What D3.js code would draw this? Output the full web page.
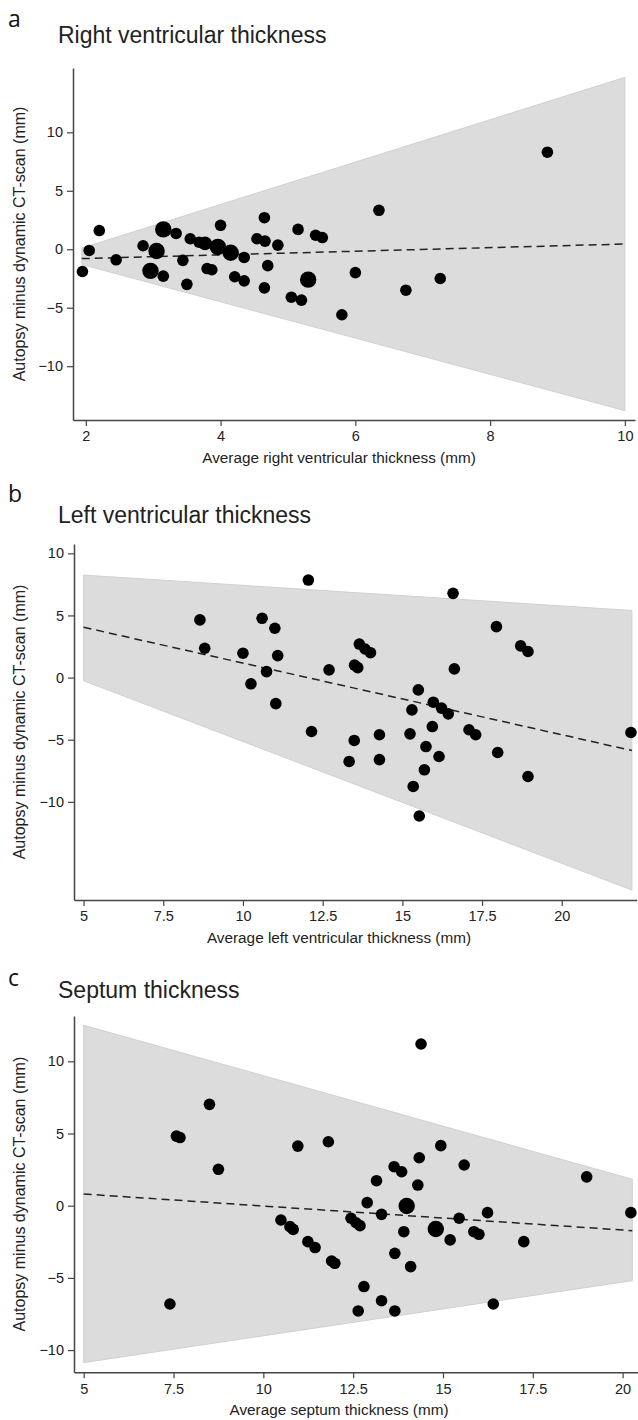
<!DOCTYPE html>
<html>
<head>
<meta charset="utf-8">
<script src="https://cdn.jsdelivr.net/npm/d3@7"></script>
<style>
  body { margin: 0; background: #fff; }
  svg { display: block; }
  .tick text { font-family: "Liberation Sans", Arial, sans-serif; font-size: 14.5px; fill: #222; }
</style>
</head>
<body>
<div id="chart"></div>
<script>
// panel a: right ventricle (x, y, weight)
var rvX = [1.95, 2.05, 2.2, 2.45, 2.85, 3.05, 2.96, 3.15, 3.15, 3.34, 3.44, 3.5, 3.55, 3.68, 3.77, 3.8, 3.87, 3.96, 4.0, 4.15,
  4.21, 4.35, 4.35, 4.54, 4.66, 4.65, 4.7, 4.65, 4.85, 5.05, 5.15, 5.2, 5.3, 5.41, 5.51, 6.35, 6.0, 5.8, 6.75, 7.26, 8.85];
var rvY = [-1.9, -0.1, 1.6, -0.9, 0.3, -0.15, -1.85, -2.3, 1.7, 1.35, -0.95, -3.0, 0.9, 0.6, 0.5, -1.65, -1.75, 0.2, 2.05, -0.3,
  -2.35, -0.7, -2.7, 0.9, 0.7, 2.7, -1.4, -3.3, 0.35, -4.1, 1.7, -4.35, -2.6, 1.2, 1.0, 3.33, -2.0, -5.6, -3.5, -2.5, 8.3];
var rvW = [1, 1, 1, 1, 1, 2, 2, 1, 2, 1, 1, 1, 1, 1, 1.4, 1, 1, 2, 1, 2,
  1, 1, 1, 1, 1, 1, 1, 1, 1, 1, 1, 1, 2, 1, 1, 1, 1, 1, 1, 1, 1];
var rvXTicks = [2, 4, 6, 8, 10];
var rvXExtent = [1.81, 10.15];
var rvYExtent = [-14.6, 15.5];
var rvBandX = [1.94, 10];
var rvUpper = [0.1, 14.7];
var rvLower = [-1.3, -13.8];
var rvTrend = [-0.8, 0.45];

// panel b: left ventricle
var lvX = [8.65, 8.8, 10.0, 10.6, 11.0, 11.09, 10.74, 10.25, 11.03, 12.05, 12.15, 12.7, 13.65, 13.83, 14.0, 13.5, 13.6, 16.59, 16.63,
  17.95, 18.71, 18.94, 15.5, 15.97, 16.23, 16.44, 15.3, 13.49, 13.33, 14.28, 14.28, 15.24, 15.94, 15.74, 16.15, 15.69, 15.34,
  15.53, 17.09, 17.3, 17.99, 18.94, 22.17];
var lvY = [4.64, 2.36, 1.96, 4.77, 3.97, 1.77, 0.48, -0.5, -2.1, 7.85, -4.34, 0.62, 2.7, 2.3, 2.0, 1.0, 0.8, 6.78, 0.7,
  4.1, 2.55, 2.1, -0.99, -1.98, -2.46, -2.92, -2.6, -5.06, -6.75, -4.6, -6.6, -4.53, -3.94, -5.55, -6.35, -7.42, -8.76,
  -11.14, -4.2, -4.6, -6.03, -7.96, -4.42];
var lvXTicks = [5, 7.5, 10, 12.5, 15, 17.5, 20];
var lvXExtent = [4.7, 22.35];
var lvYExtent = [-17.9, 10.75];
var lvBandX = [5, 22.2];
var lvUpper = [8.25, 5.4];
var lvLower = [-0.25, -17.1];
var lvTrend = [4.05, -5.87];

// panel c: septum
var sX = [8.5, 7.58, 7.68, 8.75, 10.96, 14.39, 11.81, 14.94, 14.34, 15.59, 13.64, 13.85, 13.15, 14.3, 19.0, 12.89, 13.99, 13.29,
  12.44, 12.58, 12.69, 13.91, 14.8, 15.2, 15.45, 15.86, 16.0, 16.24, 17.25, 20.23, 13.66, 14.1, 11.24, 11.44, 11.9, 11.99,
  12.8, 13.29, 12.64, 13.66, 16.4, 10.49, 10.74, 10.83, 7.4];
var sY = [7.02, 4.82, 4.72, 2.52, 4.13, 11.2, 4.43, 4.16, 3.32, 2.82, 2.7, 2.35, 1.73, 1.43, 2.0, 0.21, -0.02, -0.6,
  -0.87, -1.18, -1.38, -1.8, -1.61, -2.37, -0.87, -1.8, -1.98, -0.48, -2.49, -0.48, -3.3, -4.22, -2.49, -2.9, -3.83, -3.99,
  -5.6, -6.58, -7.29, -7.29, -6.81, -0.99, -1.45, -1.64, -6.81];
var sW = [1, 1, 1, 1, 1, 1, 1, 1, 1, 1, 1, 1, 1, 1, 1, 1, 2, 1,
  1, 1, 1, 1, 2, 1, 1, 1, 1, 1, 1, 1, 1, 1, 1, 1, 1, 1,
  1, 1, 1, 1, 1, 1, 1, 1, 1];
var sXTicks = [5, 7.5, 10, 12.5, 15, 17.5, 20];
var sXExtent = [4.73, 20.42];
var sYExtent = [-11.54, 13.14];
var sBandX = [5, 20.27];
var sUpper = [12.5, 1.83];
var sLower = [-10.87, -5.19];
var sTrend = [0.81, -1.73];

var yTicks = [-10, -5, 0, 5, 10];
var yTitle = "Autopsy minus dynamic CT-scan (mm)";

var width = 638, height = 1420;
var svg = d3.select("#chart").append("svg")
  .attr("width", width)
  .attr("height", height);

var rScale = d3.scaleSqrt().domain([0, 1]).range([0, 5.8]);
var fmt = d3.format("~g");

function drawPanel(p) {
  var x = d3.scaleLinear().domain(p.xExtent).range([p.left, p.right]);
  var y = d3.scaleLinear().domain(p.yExtent).range([p.bottom, p.top]);

  // panel letter + title
  svg.append("text")
    .attr("x", 8).attr("y", p.letterY)
    .style("font-family", "'Open Sans', sans-serif")
    .style("font-size", "23px")
    .style("fill", "#111")
    .text(p.letter);
  svg.append("text")
    .attr("x", 58).attr("y", p.titleY)
    .style("font-family", "'Liberation Sans', Arial, sans-serif")
    .style("font-size", "23px")
    .style("fill", "#222")
    .text(p.title);

  // limits of agreement band
  var band = p.bandX.map(function (d, i) {
    return { x: d, lo: p.lower[i], hi: p.upper[i] };
  });
  svg.append("path")
    .datum(band)
    .attr("fill", "#dcdcdc")
    .attr("stroke", "#d0d0d0")
    .attr("stroke-width", 1)
    .attr("d", d3.area()
      .x(function (d) { return x(d.x); })
      .y0(function (d) { return y(d.lo); })
      .y1(function (d) { return y(d.hi); }));

  // regression line
  var trend = p.bandX.map(function (d, i) { return { x: d, y: p.trend[i] }; });
  svg.append("path")
    .datum(trend)
    .attr("fill", "none")
    .attr("stroke", "#222")
    .attr("stroke-width", 1.5)
    .attr("stroke-dasharray", "8,5")
    .attr("d", d3.line()
      .x(function (d) { return x(d.x); })
      .y(function (d) { return y(d.y); }));

  // points
  var pts = p.xs.map(function (d, i) {
    return { x: d, y: p.ys[i], w: p.ws ? p.ws[i] : 1 };
  });
  svg.append("g").selectAll("circle")
    .data(pts)
    .enter().append("circle")
    .attr("cx", function (d) { return x(d.x); })
    .attr("cy", function (d) { return y(d.y); })
    .attr("r", function (d) { return rScale(d.w); })
    .attr("fill", "#000");

  // axes
  var xAxis = svg.append("g")
    .attr("transform", "translate(0," + p.bottom + ")")
    .call(d3.axisBottom(x).tickValues(p.xTicks).tickFormat(fmt).tickSize(6).tickPadding(5).tickSizeOuter(0));
  var yAxis = svg.append("g")
    .attr("transform", "translate(" + p.left + ",0)")
    .call(d3.axisLeft(y).tickValues(yTicks).tickFormat(fmt).tickSize(6).tickPadding(4).tickSizeOuter(0));
  [xAxis, yAxis].forEach(function (a) {
    a.select(".domain").attr("stroke", "#444").attr("stroke-width", 1.5);
    a.selectAll(".tick line").attr("stroke", "#444").attr("stroke-width", 1.2);
  });

  svg.append("text")
    .attr("x", 339).attr("y", p.bottom + 43)
    .attr("text-anchor", "middle")
    .style("font-family", "'Liberation Sans', Arial, sans-serif")
    .style("font-size", "15.3px")
    .style("fill", "#222")
    .text(p.xTitle);
  svg.append("text")
    .attr("transform", "translate(25," + ((p.top + p.bottom) / 2) + ") rotate(-90)")
    .attr("text-anchor", "middle")
    .style("font-family", "'Liberation Sans', Arial, sans-serif")
    .style("font-size", "16px")
    .style("fill", "#222")
    .text(yTitle);
}

drawPanel({
  letter: "a", letterY: 27, title: "Right ventricular thickness", titleY: 43,
  left: 73, right: 635, top: 68, bottom: 420,
  xExtent: rvXExtent, yExtent: rvYExtent, xTicks: rvXTicks,
  bandX: rvBandX, upper: rvUpper, lower: rvLower, trend: rvTrend,
  xs: rvX, ys: rvY, ws: rvW,
  xTitle: "Average right ventricular thickness (mm)"
});
drawPanel({
  letter: "b", letterY: 502, title: "Left ventricular thickness", titleY: 523,
  left: 74, right: 636.7, top: 544, bottom: 900,
  xExtent: lvXExtent, yExtent: lvYExtent, xTicks: lvXTicks,
  bandX: lvBandX, upper: lvUpper, lower: lvLower, trend: lvTrend,
  xs: lvX, ys: lvY, ws: null,
  xTitle: "Average left ventricular thickness (mm)"
});
drawPanel({
  letter: "c", letterY: 986, title: "Septum thickness", titleY: 998,
  left: 74, right: 637.7, top: 1016, bottom: 1372.3,
  xExtent: sXExtent, yExtent: sYExtent, xTicks: sXTicks,
  bandX: sBandX, upper: sUpper, lower: sLower, trend: sTrend,
  xs: sX, ys: sY, ws: sW,
  xTitle: "Average septum thickness (mm)"
});
</script>
</body>
</html>
